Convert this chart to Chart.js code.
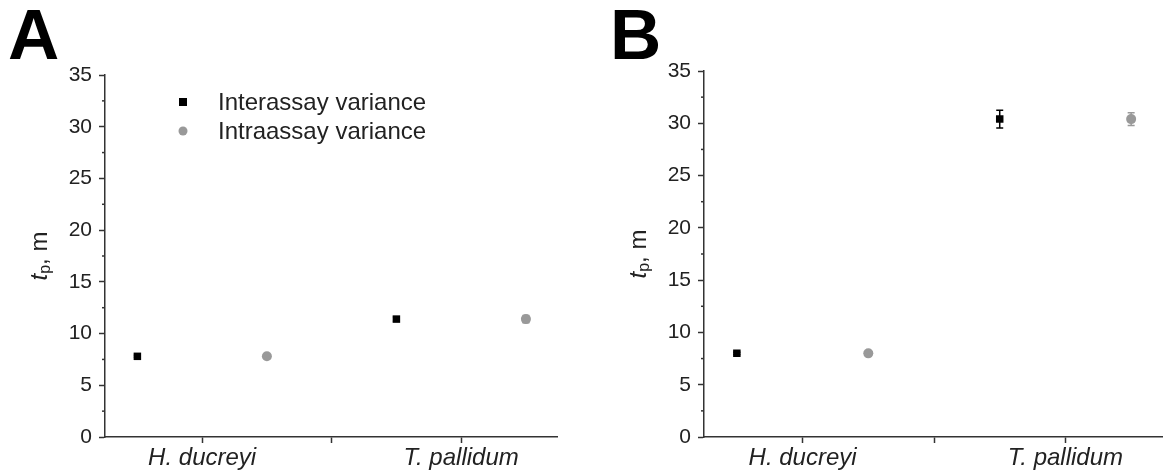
<!DOCTYPE html>
<html>
<head>
<meta charset="utf-8">
<script src="https://cdn.jsdelivr.net/npm/chart.js@4.4.0/dist/chart.umd.min.js"></script>
<style>
  body { margin: 0; background: #fff; width: 1168px; height: 475px; position: relative; overflow: hidden; }
  .panel { position: absolute; top: 0; height: 475px; }
  #panelA { left: 0; width: 580px; }
  #panelB { left: 600px; width: 568px; }
  .letter { position: absolute; top: -6px; font: bold 71px "Liberation Sans", Arial, sans-serif; color: #000; }
</style>
</head>
<body>
<div class="panel" id="panelA"><canvas id="chartA"></canvas></div>
<div class="panel" id="panelB"><canvas id="chartB"></canvas></div>
<div class="letter" style="left:8px">A</div>
<div class="letter" style="left:610px">B</div>
<script>
// ---- data ----
const categories = ["H. ducreyi", "T. pallidum"];
const categoryPos = [1, 2];
const yTicks = [0, 5, 10, 15, 20, 25, 30, 35];
const yMinorTicks = [2.5, 7.5, 12.5, 17.5, 22.5, 27.5, 32.5];
const seriesNames = ["Interassay variance", "Intraassay variance"];

const interA = [7.8, 11.4];
const interAErr = [0.1, 0.2];
const intraA = [7.8, 11.4];
const intraAErr = [0.1, 0.35];

const interB = [8.0, 30.4];
const interBErr = [0.1, 0.85];
const intraB = [8.0, 30.4];
const intraBErr = [0.1, 0.6];

const FONT = '"Liberation Sans", Arial, sans-serif';
const AXIS = '#333';
const GREY = '#999';
const groupOffset = 0.25;

function points(values, shift) {
    return values.map((v, i) => ({ x: categoryPos[i] + shift, y: v }));
}

// error bars drawn under the markers
const errorBars = {
    id: 'errorBars',
    beforeDatasetsDraw(chart) {
        const ctx = chart.ctx;
        const y = chart.scales.y;
        chart.data.datasets.forEach((ds, di) => {
            const meta = chart.getDatasetMeta(di);
            ctx.save();
            ctx.strokeStyle = ds.borderColor;
            ctx.lineWidth = 1.5;
            meta.data.forEach((pt, i) => {
                const v = ds.data[i].y, e = ds.errors[i];
                const top = y.getPixelForValue(v + e), bot = y.getPixelForValue(v - e);
                ctx.beginPath();
                ctx.moveTo(pt.x, top); ctx.lineTo(pt.x, bot);
                ctx.moveTo(pt.x - 3.5, top); ctx.lineTo(pt.x + 3.5, top);
                ctx.moveTo(pt.x - 3.5, bot); ctx.lineTo(pt.x + 3.5, bot);
                ctx.stroke();
            });
            ctx.restore();
        });
    }
};

// short minor ticks on the y axis
const minorTicks = {
    id: 'minorTicks',
    afterDraw(chart) {
        const ctx = chart.ctx;
        const y = chart.scales.y;
        const left = chart.chartArea.left;
        ctx.save();
        ctx.strokeStyle = AXIS;
        ctx.lineWidth = 1.5;
        yMinorTicks.forEach(v => {
            const py = y.getPixelForValue(v);
            ctx.beginPath();
            ctx.moveTo(left - 3, py); ctx.lineTo(left, py);
            ctx.stroke();
        });
        ctx.restore();
    }
};

// rotated "t_p, m" axis title
const yTitle = {
    id: 'yTitle',
    afterDraw(chart) {
        const ctx = chart.ctx;
        const area = chart.chartArea;
        const parts = [
            { t: 't', f: 'italic 24px ' + FONT, dy: 0 },
            { t: 'p', f: '16px ' + FONT, dy: 6 },
            { t: ', m', f: '24px ' + FONT, dy: 0 }
        ];
        ctx.save();
        ctx.translate(area.left - 65, (area.top + area.bottom) / 2);
        ctx.rotate(-Math.PI / 2);
        ctx.fillStyle = '#222';
        ctx.textBaseline = 'middle';
        let total = 0;
        parts.forEach(p => { ctx.font = p.f; total += ctx.measureText(p.t).width; });
        let x = -total / 2;
        parts.forEach(p => {
            ctx.font = p.f;
            ctx.fillText(p.t, x, p.dy);
            x += ctx.measureText(p.t).width;
        });
        ctx.restore();
    }
};

// legend inside panel A
const insideLegend = {
    id: 'insideLegend',
    afterDraw(chart, args, opts) {
        if (!opts.show) return;
        const ctx = chart.ctx;
        const x0 = chart.chartArea.left + 78;
        const y0 = chart.chartArea.top + 27;
        ctx.save();
        ctx.font = '24px ' + FONT;
        ctx.textBaseline = 'middle';
        chart.data.datasets.forEach((ds, i) => {
            const cy = y0 + i * 29;
            ctx.fillStyle = ds.backgroundColor;
            if (ds.pointStyle === 'rect') {
                ctx.fillRect(x0 - 4, cy - 4, 8, 8);
            } else {
                ctx.beginPath(); ctx.arc(x0, cy, 4.5, 0, Math.PI * 2); ctx.fill();
            }
            ctx.fillStyle = '#222';
            ctx.fillText(ds.label, x0 + 35, cy + 1);
        });
        ctx.restore();
    }
};

function makeChart(id, inter, interErr, intra, intraErr, pad, showLegend) {
    return new Chart(document.getElementById(id), {
        type: 'scatter',
        data: {
            datasets: [
                {
                    label: seriesNames[0],
                    data: points(inter, -groupOffset),
                    errors: interErr,
                    pointStyle: 'rect',
                    pointRadius: 5.3,
                    backgroundColor: '#000',
                    borderColor: '#000',
                    borderWidth: 0
                },
                {
                    label: seriesNames[1],
                    data: points(intra, groupOffset),
                    errors: intraErr,
                    pointStyle: 'circle',
                    pointRadius: 5,
                    backgroundColor: GREY,
                    borderColor: GREY,
                    borderWidth: 0
                }
            ]
        },
        options: {
            responsive: true,
            maintainAspectRatio: false,
            animation: false,
            layout: { padding: pad },
            plugins: {
                legend: { display: false },
                tooltip: { enabled: false },
                insideLegend: { show: showLegend }
            },
            scales: {
                x: {
                    type: 'linear',
                    min: 0.625,
                    max: 2.37,
                    afterBuildTicks: s => { s.ticks = [1, 1.5, 2].map(v => ({ value: v })); },
                    afterFit: s => { s.height = 38; },
                    ticks: {
                        font: { family: FONT, size: 24, style: 'italic' },
                        color: '#222',
                        padding: 1,
                        maxRotation: 0,
                        callback: v => {
                            const i = categoryPos.indexOf(v);
                            return i >= 0 ? categories[i] : '';
                        }
                    },
                    grid: { drawOnChartArea: false, tickLength: 6, tickColor: AXIS, tickWidth: 1.5 },
                    border: { color: AXIS, width: 1.5 }
                },
                y: {
                    min: 0,
                    max: 35,
                    afterBuildTicks: s => { s.ticks = yTicks.map(v => ({ value: v })); },
                    afterFit: s => { s.width = pad.yw; },
                    ticks: {
                        font: { family: FONT, size: 21 },
                        color: '#222',
                        padding: 7
                    },
                    grid: { drawOnChartArea: false, tickLength: 6, tickColor: AXIS, tickWidth: 1.5 },
                    border: { color: AXIS, width: 1.5 }
                }
            }
        },
        plugins: [errorBars, minorTicks, yTitle, insideLegend]
    });
}

makeChart('chartA', interA, interAErr, intraA, intraAErr, { top: 75, right: 23, bottom: 0, left: 0, yw: 105 }, true);
makeChart('chartB', interB, interBErr, intraB, intraBErr, { top: 71, right: 0, bottom: 0, left: 0, yw: 104 }, false);
</script>
</body>
</html>
